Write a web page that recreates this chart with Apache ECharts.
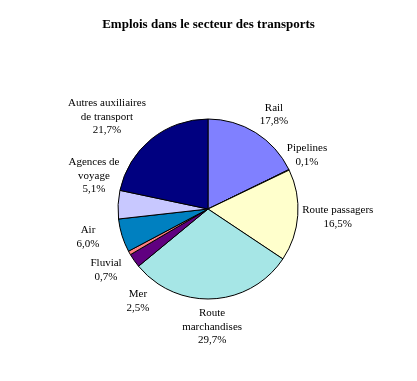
<!DOCTYPE html>
<html><head><meta charset="utf-8">
<script src="https://cdn.jsdelivr.net/npm/echarts@6/dist/echarts.min.js"></script>
<style>html,body{margin:0;padding:0;background:#fff}#c{width:417px;height:381px}</style>
</head><body><div id="c"></div>
<script>
const categories = ["Rail","Pipelines","Route passagers","Route\nmarchandises","Mer","Fluvial","Air","Agences de\nvoyage","Autres auxiliaires\nde transport"];
const values = [17.8,0.1,16.5,29.7,2.5,0.7,6.0,5.1,21.7];
const valueLabels = ["17,8%","0,1%","16,5%","29,7%","2,5%","0,7%","6,0%","5,1%","21,7%"];
const colors = ["#8080FF","#802060","#FFFFCC","#A6E6E6","#600080","#FF8080","#0080C0","#C8C8FF","#000080"];
// label placement: polar angle (deg clockwise from top) and distance from pie centre
const labelAngle = [35,61.4,93.5,178,217.3,239.1,256.9,286.1,312.3];
const labelDist = [115,112.8,130,118,115.6,118.8,123.2,118.7,136.6];
const CX = 208, CY = 209, R = 90;
const chart = echarts.init(document.getElementById('c'));
chart.setOption({
  animation:false,
  title:{text:"Emplois dans le secteur des transports",left:'center',top:13,
    textStyle:{fontFamily:'Liberation Serif',fontSize:13,fontWeight:'bold',color:'#000'}},
  series:[{
    type:'pie',center:[CX,CY],radius:[0,R],startAngle:90,clockwise:true,
    avoidLabelOverlap:false,
    data:categories.map((c,i)=>({name:c,value:values[i],itemStyle:{color:colors[i]}})),
    itemStyle:{borderColor:'#000',borderWidth:1},
    emphasis:{disabled:true},
    label:{show:true,position:'outside',overflow:'none',formatter:p=>p.name+"\n"+valueLabels[p.dataIndex],
      fontFamily:'Liberation Serif',fontSize:11,lineHeight:13.5,color:'#000',align:'center'},
    labelLine:{show:false},
    labelLayout:function(p){
      const a = labelAngle[p.dataIndex]*Math.PI/180, d = labelDist[p.dataIndex];
      return {x:CX+Math.sin(a)*d, y:CY-Math.cos(a)*d, align:'center', verticalAlign:'middle'};
    }
  }]
});
</script></body></html>
